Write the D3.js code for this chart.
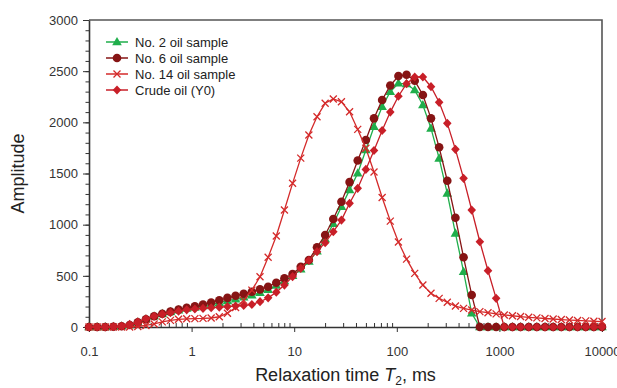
<html>
<head>
<meta charset="utf-8">
<script src="https://d3js.org/d3.v7.min.js"></script>
<style>
  body { margin: 0; background: #fff; }
  svg text { font-family: "Liberation Sans", Arial, sans-serif; }
</style>
</head>
<body>
<div id="chart"></div>
<script>
// T2 bins (ms), 64 points from 0.1 to 10000
var t2 = [0.1, 0.120, 0.144, 0.173, 0.208, 0.249, 0.299, 0.359, 0.431, 0.518,
  0.622, 0.746, 0.896, 1.076, 1.292, 1.551, 1.862, 2.236, 2.683, 3.220,
  3.866, 4.642, 5.572, 6.690, 8.032, 9.641, 11.58, 13.90, 16.68, 20.03,
  24.05, 28.87, 34.65, 41.60, 49.94, 59.95, 71.97, 86.41, 103.7, 124.5,
  149.5, 179.5, 215.4, 258.7, 310.5, 372.8, 447.5, 537.3, 644.9, 774.3,
  929.4, 1116, 1340, 1608, 1931, 2318, 2783, 3341, 4011, 4814,
  5780, 6939, 8331, 10000];

var no2 = [0, 0, 0, 2, 8, 20, 45, 75, 105, 128,
  148, 165, 180, 192, 205, 220, 238, 255, 272, 290,
  310, 335, 365, 405, 450, 500, 565, 640, 740, 860,
  1010, 1176, 1340, 1502, 1729, 1957, 2152, 2299, 2381, 2375,
  2315, 2169, 1941, 1648, 1306, 915, 540, 134, 0, 0,
  0, 0, 0, 0, 0, 0, 0, 0, 0, 0,
  0, 0, 0, 0];

var no6 = [0, 0, 0, 2, 8, 20, 45, 75, 105, 130,
  150, 170, 188, 202, 220, 240, 262, 285, 305, 325,
  345, 368, 394, 433, 476, 518, 589, 655, 779, 899,
  1055, 1224, 1416, 1627, 1827, 2039, 2218, 2360, 2452, 2465,
  2406, 2267, 2039, 1756, 1429, 1068, 681, 313, 0, 0,
  0, 0, 0, 0, 0, 0, 0, 0, 0, 0,
  0, 0, 0, 0];

var no14 = [0, 0, 0, 0, 0, 0, 5, 15, 30, 50,
  65, 75, 80, 82, 84, 88, 100, 135, 190, 260,
  360, 491, 681, 889, 1143, 1404, 1650, 1876, 2055, 2186,
  2228, 2201, 2103, 1931, 1746, 1515, 1265, 1035, 830, 663,
  524, 410, 329, 280, 242, 205, 182, 166, 150, 140,
  128, 118, 110, 102, 95, 89, 83, 78, 73, 68,
  64, 60, 56, 53];

var crude = [0, 0, 0, 3, 10, 25, 50, 80, 105, 125,
  140, 155, 168, 176, 182, 188, 194, 200, 205, 210,
  220, 247, 285, 340, 410, 492, 573, 650, 736, 824,
  931, 1045, 1209, 1355, 1540, 1725, 1920, 2100, 2255, 2378,
  2443, 2443, 2348, 2196, 1990, 1736, 1453, 1143, 833, 550,
  280, 0, 0, 0, 0, 0, 0, 0, 0, 0,
  0, 0, 0, 0];

var seriesNames = ["No. 2 oil sample", "No. 6 oil sample", "No. 14 oil sample", "Crude oil (Y0)"];
var xTicks = [0.1, 1, 10, 100, 1000, 10000];
var yTicks = [0, 500, 1000, 1500, 2000, 2500, 3000];

var series = [
  { name: seriesNames[0], values: no2, color: "#1fae4b", shape: "tri" },
  { name: seriesNames[1], values: no6, color: "#861414", shape: "circle" },
  { name: seriesNames[2], values: no14, color: "#d42a2a", shape: "cross" },
  { name: seriesNames[3], values: crude, color: "#c81f28", shape: "diamond" }
];

var width = 617, height = 388;
var margin = { left: 89, right: 15, top: 20, bottom: 61 };

var svg = d3.select("#chart").append("svg")
  .attr("width", width)
  .attr("height", height);

var x = d3.scaleLog().domain([0.1, 10000]).range([margin.left, width - margin.right]);
var y = d3.scaleLinear().domain([0, 3000]).range([height - margin.bottom, margin.top]);

// frame (top and right)
svg.append("path")
  .attr("d", "M" + x(0.1) + "," + y(3000) + "H" + x(10000) + "V" + y(0))
  .attr("fill", "none")
  .attr("stroke", "#555")
  .attr("stroke-width", 1.6);

// y axis
var yMinor = d3.range(0, 3001, 100);
svg.append("g")
  .attr("transform", "translate(" + x(0.1) + ",0)")
  .call(d3.axisLeft(y).tickValues(yMinor).tickSize(3.5).tickFormat(""))
  .call(function(g) { g.select(".domain").remove(); })
  .selectAll("line").attr("stroke", "#333");
var yAxis = svg.append("g")
  .attr("transform", "translate(" + x(0.1) + ",0)")
  .call(d3.axisLeft(y).tickValues(yTicks).tickSize(6).tickPadding(5).tickSizeOuter(0)
    .tickFormat(d3.format("d")));
yAxis.select(".domain").attr("stroke", "#333").attr("stroke-width", 1.6);
yAxis.selectAll("line").attr("stroke", "#333");
yAxis.selectAll("text").attr("font-size", 13).attr("fill", "#333")
  .style("font-family", "Liberation Sans, Arial, sans-serif");

// x axis
var xMinor = [];
for (var d = 0.1; d < 10000; d *= 10) {
  for (var k = 2; k < 10; k++) xMinor.push(d * k);
}
svg.append("g")
  .attr("transform", "translate(0," + y(0) + ")")
  .call(d3.axisTop(x).tickValues(xMinor).tickSize(4).tickFormat(""))
  .call(function(g) { g.select(".domain").remove(); })
  .selectAll("line").attr("stroke", "#333");
var xAxis = svg.append("g")
  .attr("transform", "translate(0," + y(0) + ")")
  .call(d3.axisBottom(x).tickValues(xTicks).tickSize(5).tickPadding(15).tickSizeOuter(0)
    .tickFormat(function(d) { return String(d); }));
xAxis.select(".domain").attr("stroke", "#333").attr("stroke-width", 1.6);
xAxis.selectAll("line").attr("stroke", "#333");
xAxis.selectAll("text").attr("font-size", 13).attr("fill", "#333")
  .style("font-family", "Liberation Sans, Arial, sans-serif");

// axis titles
svg.append("text")
  .attr("transform", "translate(24," + ((y(0) + y(3000)) / 2) + ") rotate(-90)")
  .attr("text-anchor", "middle")
  .attr("font-size", 18)
  .attr("fill", "#222")
  .text("Amplitude");

var xt = svg.append("text")
  .attr("x", (x(0.1) + x(10000)) / 2)
  .attr("y", 381)
  .attr("text-anchor", "middle")
  .attr("font-size", 18)
  .attr("fill", "#222");
xt.append("tspan").text("Relaxation time ");
xt.append("tspan").attr("font-style", "italic").text("T");
xt.append("tspan").attr("font-size", 12).attr("dy", 4).text("2");
xt.append("tspan").attr("dy", -4).text(", ms");

// markers
function drawMarker(g, shape, color, cx, cy) {
  if (shape === "circle") {
    g.append("circle").attr("cx", cx).attr("cy", cy).attr("r", 4.3).attr("fill", color);
  } else if (shape === "tri") {
    g.append("path").attr("d", d3.symbol().type(d3.symbolTriangle).size(40)())
      .attr("transform", "translate(" + cx + "," + (cy + 0.5) + ")").attr("fill", color);
  } else if (shape === "diamond") {
    g.append("path").attr("d", "M0,-4.6L4.3,0L0,4.6L-4.3,0Z")
      .attr("transform", "translate(" + cx + "," + cy + ")").attr("fill", color);
  } else {
    g.append("path").attr("d", "M-3.5,-3.5L3.5,3.5M-3.5,3.5L3.5,-3.5")
      .attr("transform", "translate(" + cx + "," + cy + ")")
      .attr("stroke", color).attr("stroke-width", 1.3).attr("fill", "none");
  }
}

var line = d3.line()
  .x(function(d) { return x(d[0]); })
  .y(function(d) { return y(d[1]); });

series.forEach(function(s) {
  var pts = t2.map(function(t, i) { return [t, s.values[i]]; });
  var g = svg.append("g");
  g.append("path")
    .datum(pts)
    .attr("d", line)
    .attr("fill", "none")
    .attr("stroke", s.color)
    .attr("stroke-width", 1.3);
  pts.forEach(function(p) {
    drawMarker(g, s.shape, s.color, x(p[0]), y(p[1]));
  });
});

// legend
var legend = svg.append("g");
series.forEach(function(s, i) {
  var ly = 42 + i * 16;
  legend.append("line")
    .attr("x1", 106).attr("x2", 128)
    .attr("y1", ly).attr("y2", ly)
    .attr("stroke", s.color).attr("stroke-width", 1.5);
  drawMarker(legend, s.shape, s.color, 117, ly);
  legend.append("text")
    .attr("x", 135).attr("y", ly + 4.5)
    .attr("font-size", 13)
    .attr("fill", "#222")
    .text(s.name);
});
</script>
</body>
</html>
